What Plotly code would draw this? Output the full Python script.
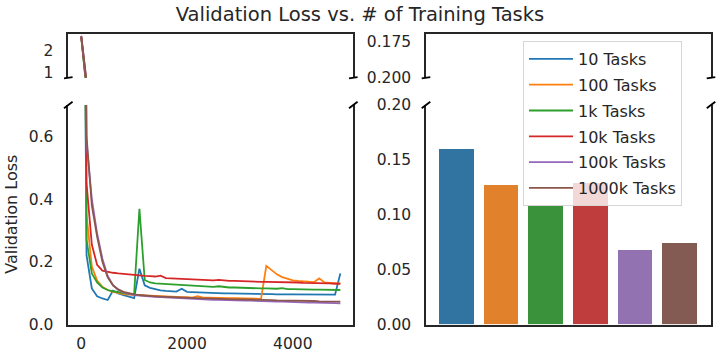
import plotly.graph_objects as go

steps = list(range(0, 5000, 100))

names = ["10 Tasks", "100 Tasks", "1k Tasks", "10k Tasks", "100k Tasks", "1000k Tasks"]

loss_10 = [2.65, 0.22, 0.115, 0.09, 0.083, 0.078, 0.108, 0.099, 0.094, 0.09,
           0.084, 0.178, 0.125, 0.117, 0.112, 0.109, 0.107, 0.105, 0.105, 0.114,
           0.104, 0.103, 0.102, 0.101, 0.101, 0.100, 0.100, 0.099, 0.099, 0.099,
           0.098, 0.098, 0.098, 0.097, 0.098, 0.097, 0.097, 0.096, 0.097, 0.096,
           0.096, 0.096, 0.095, 0.096, 0.095, 0.095, 0.096, 0.095, 0.095, 0.163]
loss_100 = [2.65, 0.35, 0.185, 0.14, 0.12, 0.11, 0.104, 0.1, 0.097, 0.095,
            0.094, 0.093, 0.092, 0.091, 0.09, 0.089, 0.089, 0.088, 0.088, 0.087,
            0.087, 0.086, 0.09, 0.086, 0.086, 0.085, 0.085, 0.085, 0.084, 0.084,
            0.084, 0.083, 0.083, 0.083, 0.082, 0.187, 0.172, 0.16, 0.151, 0.145,
            0.141, 0.139, 0.137, 0.136, 0.135, 0.147, 0.134, 0.133, 0.132, 0.131]
loss_1k = [2.65, 0.27, 0.163, 0.134, 0.118, 0.11, 0.106, 0.103, 0.1, 0.098,
           0.097, 0.369, 0.142, 0.134, 0.131, 0.13, 0.128, 0.126, 0.125, 0.124,
           0.123, 0.122, 0.122, 0.121, 0.12, 0.12, 0.122, 0.119, 0.118, 0.118,
           0.117, 0.117, 0.116, 0.116, 0.115, 0.115, 0.114, 0.114, 0.116, 0.113,
           0.113, 0.112, 0.112, 0.112, 0.111, 0.111, 0.111, 0.11, 0.11, 0.11]
loss_10k = [2.65, 0.45, 0.255, 0.19, 0.172, 0.168, 0.165, 0.163, 0.161, 0.159,
            0.157, 0.156, 0.155, 0.154, 0.153, 0.156, 0.148, 0.147, 0.146, 0.145,
            0.144, 0.143, 0.143, 0.142, 0.141, 0.141, 0.142, 0.14, 0.139, 0.139,
            0.138, 0.138, 0.137, 0.137, 0.136, 0.136, 0.136, 0.135, 0.135, 0.134,
            0.134, 0.134, 0.133, 0.133, 0.132, 0.132, 0.131, 0.131, 0.13, 0.13]
loss_100k = [2.7, 0.58, 0.4, 0.29, 0.21, 0.155, 0.125, 0.11, 0.102, 0.097,
             0.094, 0.092, 0.09, 0.089, 0.088, 0.087, 0.086, 0.085, 0.084, 0.083,
             0.082, 0.082, 0.081, 0.08, 0.08, 0.079, 0.079, 0.078, 0.078, 0.077,
             0.077, 0.076, 0.076, 0.075, 0.075, 0.074, 0.074, 0.073, 0.073, 0.072,
             0.072, 0.071, 0.071, 0.07, 0.07, 0.069, 0.069, 0.068, 0.068, 0.0675]
loss_1000k = [2.7, 0.6, 0.38, 0.28, 0.2, 0.15, 0.125, 0.112, 0.104, 0.099,
              0.096, 0.094, 0.092, 0.091, 0.09, 0.089, 0.088, 0.087, 0.086, 0.086,
              0.085, 0.084, 0.084, 0.083, 0.083, 0.082, 0.082, 0.081, 0.081, 0.08,
              0.08, 0.08, 0.079, 0.079, 0.078, 0.078, 0.078, 0.077, 0.077, 0.076,
              0.076, 0.076, 0.075, 0.075, 0.075, 0.074, 0.074, 0.074, 0.073, 0.073]

final_loss = [0.160, 0.127, 0.109, 0.129, 0.0675, 0.074]

line_colors = ["#1f77b4", "#ff7f0e", "#2ca02c", "#d62728", "#9467bd", "#8c564b"]
bar_colors = ["#3274a1", "#e1812c", "#3a923a", "#c03d3e", "#9372b2", "#845b53"]

series = [loss_10, loss_100, loss_1k, loss_10k, loss_100k, loss_1000k]

W, H = 720, 360


def px(x):
    return x / W


def py(y):
    return 1 - y / H


fig = go.Figure()

for i, ys in enumerate(series):
    # top (broken) part
    fig.add_trace(go.Scatter(x=steps, y=ys, mode="lines", xaxis="x", yaxis="y",
                             line=dict(color=line_colors[i], width=1.8),
                             showlegend=False))
    # bottom part
    fig.add_trace(go.Scatter(x=steps, y=ys, mode="lines", xaxis="x2", yaxis="y2",
                             name=names[i], legendgroup=names[i],
                             line=dict(color=line_colors[i], width=1.8)))

fig.add_trace(go.Bar(x=list(range(len(final_loss))), y=final_loss, xaxis="x4", yaxis="y4",
                     width=0.8, marker=dict(color=bar_colors, line=dict(color="white", width=1)),
                     showlegend=False))
# keep the top right panel alive
fig.add_trace(go.Bar(x=list(range(len(final_loss))), y=final_loss, xaxis="x3", yaxis="y3",
                     width=0.8, marker=dict(color=bar_colors), showlegend=False))

spine = "#262626"
txt = "#262626"
font = dict(family="DejaVu Sans", size=15.5, color=txt)

left_dom = [px(68.3), px(353.3)]
right_dom = [px(426), px(711)]
top_dom = [py(77.7), py(34)]
bot_dom = [py(324.5), py(105)]

xr = [-245, 5145]
br = [-0.69, 5.69]

common = dict(showgrid=False, zeroline=False, linecolor=spine, linewidth=1.5, ticks="",
              tickfont=font, automargin=False)

fig.update_layout(
    width=W, height=H,
    margin=dict(l=0, r=0, t=0, b=0, autoexpand=False),
    paper_bgcolor="white", plot_bgcolor="white",
    font=font,
    title=dict(text="Validation Loss vs. # of Training Tasks", x=px(360), xanchor="center",
               y=py(14), yanchor="middle", font=dict(family="DejaVu Sans", size=19.5, color=txt)),
    xaxis=dict(domain=left_dom, anchor="y", range=xr, side="top", showline=True,
               showticklabels=False, **common),
    yaxis=dict(domain=top_dom, anchor="x", range=[0.76, 2.79], tickvals=[1, 2],
               showline=True, mirror=True, ticklabelstandoff=10, **common),
    xaxis2=dict(domain=left_dom, anchor="y2", range=xr, tickvals=[0, 2000, 4000],
                showline=True, ticklabelstandoff=4, **common),
    yaxis2=dict(domain=bot_dom, anchor="x2", range=[0, 0.70], tickvals=[0, 0.2, 0.4, 0.6],
                tickformat=".1f", showline=True, mirror=True, ticklabelstandoff=10, **common),
    xaxis3=dict(domain=right_dom, anchor="y3", range=br, side="top", showline=True,
                showticklabels=False, **common),
    yaxis3=dict(domain=top_dom, anchor="x3", range=[0.2, 0.1694], tickvals=[0.175, 0.2],
                tickformat=".3f", showline=True, mirror=True, ticklabelstandoff=10, **common),
    xaxis4=dict(domain=right_dom, anchor="y4", range=br, showline=True,
                showticklabels=False, **common),
    yaxis4=dict(domain=bot_dom, anchor="x4", range=[0, 0.2], tickvals=[0, 0.05, 0.1, 0.15, 0.2],
                tickformat=".2f", showline=True, mirror=True, ticklabelstandoff=10, **common),
    legend=dict(x=px(523), y=py(41), xanchor="left", yanchor="top",
                bgcolor="rgba(255,255,255,0.8)", bordercolor="#d6d6d6", borderwidth=1,
                font=dict(family="DejaVu Sans", size=16, color=txt),
                tracegroupgap=2, itemwidth=44),
    bargap=0,
)

fig.add_annotation(text="Validation Loss", x=px(12), y=(bot_dom[0] + bot_dom[1]) / 2,
                   xref="paper", yref="paper", textangle=-90, showarrow=False,
                   xanchor="center", yanchor="middle",
                   font=dict(family="DejaVu Sans", size=16, color=txt))

# broken axis marks
d = 0.015
for xa, ya, yc in [("x", "y", 0), ("x3", "y3", 0), ("x2", "y2", 1), ("x4", "y4", 1)]:
    for xc in (0, 1):
        fig.add_shape(type="line", xref=xa + " domain", yref=ya + " domain",
                      x0=xc - d, x1=xc + d, y0=yc - d, y1=yc + d,
                      line=dict(color="black", width=1.8))

# drop the default 8px page margin so the figure sits at the window corner
fig.write_html("out.html", config={"displayModeBar": False},
               post_script="document.body.style.margin='0';")
